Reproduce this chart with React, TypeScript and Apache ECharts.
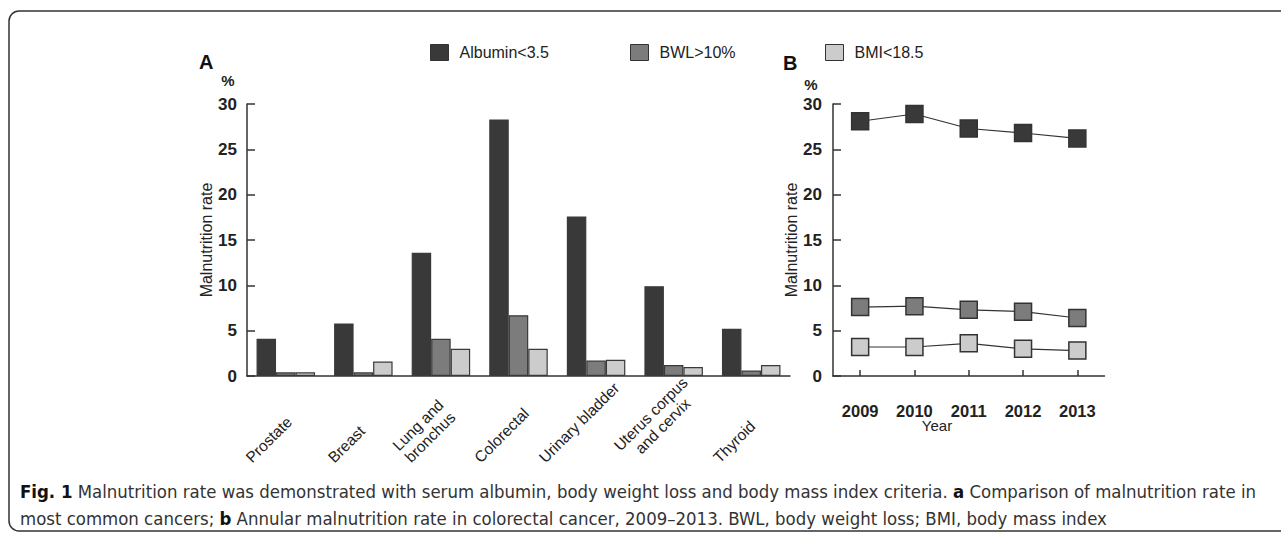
import React, { useEffect, useRef } from "react";
import * as echarts from "echarts";

const cancerTypes = [
  "Prostate",
  "Breast",
  "Lung and\nbronchus",
  "Colorectal",
  "Urinary bladder",
  "Uterus corpus\nand cervix",
  "Thyroid",
];
const albuminByCancer = [4.1, 5.8, 13.6, 28.3, 17.6, 9.9, 5.2];
const bwlByCancer = [0.4, 0.4, 4.1, 6.7, 1.7, 1.2, 0.6];
const bmiByCancer = [0.4, 1.6, 3.0, 3.0, 1.8, 1.0, 1.2];

const years = ["2009", "2010", "2011", "2012", "2013"];
const albuminByYear = [28.1, 28.9, 27.3, 26.8, 26.2];
const bwlByYear = [7.6, 7.7, 7.3, 7.1, 6.4];
const bmiByYear = [3.2, 3.2, 3.6, 3.0, 2.8];

const seriesNames = ["Albumin<3.5", "BWL>10%", "BMI<18.5"];
const seriesColors = ["#393939", "#7c7c7c", "#cccccc"];

const yMin = 0;
const yMax = 30;
const yStep = 5;

const captionPlain1 =
  "Fig. 1 Malnutrition rate was demonstrated with serum albumin, body weight loss and body mass index criteria. a Comparison of malnutrition rate in";
const captionLine1 =
  "{b|Fig. 1} Malnutrition rate was demonstrated with serum albumin, body weight loss and body mass index criteria. {b|a} Comparison of malnutrition rate in";
const captionLine2 =
  "most common cancers; {b|b} Annular malnutrition rate in colorectal cancer, 2009–2013. BWL, body weight loss; BMI, body mass index";

const FONT = "Arial, 'Liberation Sans', Helvetica, sans-serif";
const CAPTION_FONT = "'DejaVu Sans Condensed', 'Liberation Sans Narrow', 'Open Sans', sans-serif";
const INK = "#222";

function measure(text: string, font: string): number {
  const c = document.createElement("canvas").getContext("2d");
  if (!c) return text.length * 7;
  c.font = font;
  return c.measureText(text).width;
}

export default function App() {
  const ref = useRef<HTMLDivElement>(null);

  useEffect(() => {
    document.body.style.margin = "0";
    if (!ref.current) return;
    const chart = echarts.init(ref.current, undefined, { renderer: "svg" });

    const yAxisBase = (gridIndex: number, labelMargin: number) => ({
      type: "value" as const,
      gridIndex,
      min: yMin,
      max: yMax,
      interval: yStep,
      name: "Malnutrition rate",
      nameLocation: "middle" as const,
      nameRotate: 90,
      nameGap: 33,
      nameTextStyle: { fontFamily: FONT, fontSize: 16, color: INK },
      axisLine: { show: true, lineStyle: { color: "#333", width: 1.5 } },
      axisTick: { show: true, inside: true, length: 8, lineStyle: { color: "#333", width: 1.5 } },
      axisLabel: {
        fontFamily: FONT,
        fontSize: 17,
        fontWeight: "bold" as const,
        color: INK,
        margin: labelMargin,
      },
      splitLine: { show: false },
    });

    const capSize = Math.max(13, Math.min(22, (16 * 1228) / measure(captionPlain1, `16px ${CAPTION_FONT}`)));

    const staticGraphics: any[] = [
      {
        type: "rect",
        z: -1,
        shape: { x: 9, y: 11, width: 1300, height: 520, r: 10 },
        style: { fill: "none", stroke: "#333", lineWidth: 1.5 },
      },
      { type: "text", x: 199, y: 62, style: { text: "A", font: `bold 20px ${FONT}`, fill: "#111", verticalAlign: "middle" } },
      { type: "text", x: 228, y: 80, style: { text: "%", font: `bold 15px ${FONT}`, fill: INK, align: "center", verticalAlign: "middle" } },
      { type: "text", x: 783, y: 63, style: { text: "B", font: `bold 20px ${FONT}`, fill: "#111", verticalAlign: "middle" } },
      { type: "text", x: 811, y: 84, style: { text: "%", font: `bold 15px ${FONT}`, fill: INK, align: "center", verticalAlign: "middle" } },
      { type: "text", x: 937, y: 425, style: { text: "Year", font: `15px ${FONT}`, fill: INK, align: "center", verticalAlign: "middle" } },
      {
        type: "text",
        x: 20,
        y: 491,
        style: {
          text: captionLine1,
          fontFamily: CAPTION_FONT,
          fontSize: capSize,
          fill: "#333",
          verticalAlign: "middle",
          rich: { b: { fontFamily: CAPTION_FONT, fontSize: capSize, fontWeight: "bold", fill: "#111" } },
        },
      },
      {
        type: "text",
        x: 20,
        y: 518,
        style: {
          text: captionLine2,
          fontFamily: CAPTION_FONT,
          fontSize: capSize,
          fill: "#333",
          verticalAlign: "middle",
          rich: { b: { fontFamily: CAPTION_FONT, fontSize: capSize, fontWeight: "bold", fill: "#111" } },
        },
      },
    ];

    const legendAt = (i: number, left: number) => ({
      data: [
        {
          name: seriesNames[i],
          icon: "rect",
          itemStyle: { color: seriesColors[i], borderColor: "#333", borderWidth: 1 },
        },
      ],
      left,
      top: 39,
      itemWidth: 18,
      itemHeight: 16,
      selectedMode: false,
      textStyle: { fontFamily: FONT, fontSize: 16, color: INK, padding: [0, 0, 0, 6] },
    });

    const barSeries = [albuminByCancer, bwlByCancer, bmiByCancer].map((data, i) => ({
      type: "bar" as const,
      name: seriesNames[i],
      xAxisIndex: 0,
      yAxisIndex: 0,
      data,
      barWidth: 19.5,
      barGap: "0%",
      itemStyle: { color: seriesColors[i], borderColor: "#3a3a3a", borderWidth: 1.2 },
    }));

    const lineSeries = [albuminByYear, bwlByYear, bmiByYear].map((data, i) => ({
      type: "line" as const,
      name: seriesNames[i],
      xAxisIndex: 1,
      yAxisIndex: 1,
      data,
      symbol: "rect",
      symbolSize: 17,
      showSymbol: true,
      lineStyle: { color: "#333", width: 1.2 },
      itemStyle: { color: seriesColors[i], borderColor: "#333", borderWidth: 1.5 },
      z: 3,
    }));

    const option: any = {
      animation: false,
      backgroundColor: "#ffffff",
      legend: [legendAt(0, 425), legendAt(1, 625), legendAt(2, 820)],
      grid: [
        { left: 247, top: 104, width: 543, height: 272 },
        { left: 833, top: 104, width: 271.5, height: 272 },
      ],
      xAxis: [
        {
          type: "category",
          gridIndex: 0,
          data: cancerTypes,
          axisLine: { show: true, lineStyle: { color: "#333", width: 1.5 } },
          axisTick: { show: false },
          axisLabel: { show: false },
        },
        {
          type: "category",
          gridIndex: 1,
          data: years,
          boundaryGap: true,
          axisLine: { show: true, lineStyle: { color: "#333", width: 1.5 } },
          axisTick: { show: true, inside: true, alignWithLabel: true, length: 6, lineStyle: { color: "#333", width: 1.5 } },
          axisLabel: { fontFamily: FONT, fontSize: 16.5, fontWeight: "bold", color: INK, margin: 26 },
        },
      ],
      yAxis: [yAxisBase(0, 10), yAxisBase(1, 11)],
      series: [...barSeries, ...lineSeries],
      graphic: staticGraphics,
    };

    chart.setOption(option);

    const labelFont = `15.5px ${FONT}`;
    const lineH = 17;
    const labelGraphics = cancerTypes.map((label, i) => {
      const px = chart.convertToPixel({ xAxisIndex: 0 }, i) as number;
      const lines = label.split("\n");
      const w = Math.max(...lines.map((l) => measure(l, labelFont)));
      const h = lines.length * lineH;
      const ext = (w + h) * Math.SQRT1_2;
      return {
        type: "text",
        x: px - 17,
        y: 466 - ext / 2,
        rotation: Math.PI / 4,
        style: {
          text: label,
          font: labelFont,
          fill: INK,
          align: "center",
          verticalAlign: "middle",
          lineHeight: lineH,
        },
      };
    });

    chart.setOption({ graphic: [...staticGraphics, ...labelGraphics] });

    return () => {
      chart.dispose();
    };
  }, []);

  return <div ref={ref} style={{ width: 1281, height: 540 }} />;
}
